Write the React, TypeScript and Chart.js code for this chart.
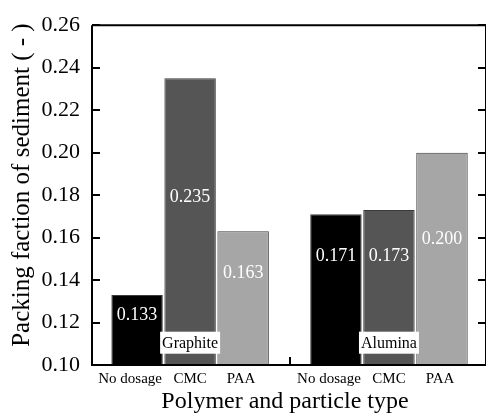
import React, { useEffect, useRef } from "react";
import { Chart, registerables } from "chart.js";

Chart.register(...registerables);

const groups = ["Graphite", "Alumina"];
const polymers = ["No dosage", "CMC", "PAA"];
const graphiteValues = [0.133, 0.235, 0.163];
const aluminaValues = [0.171, 0.173, 0.2];
const valueLabelAt = [0.1236, 0.179, 0.1432, 0.1514, 0.1514, 0.1591];
const groupLabelAt = 0.1105;
const yMin = 0.1;
const yMax = 0.26;
const yStep = 0.02;
const barColors = ["#000000", "#555555", "#a6a6a6"];

const GROUP_SPACING = 3.75;
const LABEL_SHIFT = [-7, 0, -2];
const FONT = "'Liberation Serif', 'Times New Roman', serif";

export default function App() {
  const ref = useRef<HTMLCanvasElement | null>(null);

  useEffect(() => {
    document.body.style.margin = "0";
    const canvas = ref.current;
    if (!canvas) return;

    const allValues = [graphiteValues, aluminaValues];
    const points: { x: number; y: number }[] = [];
    const colors: string[] = [];
    const labels: string[] = [];
    const shifts: number[] = [];
    allValues.forEach((vals, g) => {
      vals.forEach((v, i) => {
        points.push({ x: 1 + g * GROUP_SPACING + i, y: v });
        colors.push(barColors[i]);
        labels.push(polymers[i]);
        shifts.push(LABEL_SHIFT[i]);
      });
    });
    const tickPositions = points.map((p) => p.x);

    const framePlugin = {
      id: "frame",
      afterDraw(chart: any) {
        const { ctx, chartArea } = chart;
        const xs = chart.scales.x;
        const ys = chart.scales.y;
        const { left, right, top, bottom } = chartArea;
        ctx.save();
        // value labels
        ctx.fillStyle = "#ffffff";
        ctx.font = `18px ${FONT}`;
        ctx.textAlign = "center";
        ctx.textBaseline = "middle";
        points.forEach((p, i) => {
          ctx.fillText(p.y.toFixed(3), xs.getPixelForValue(p.x), ys.getPixelForValue(valueLabelAt[i]));
        });
        // category labels
        ctx.fillStyle = "#000000";
        ctx.font = `15px ${FONT}`;
        points.forEach((p, i) => {
          ctx.fillText(labels[i], xs.getPixelForValue(p.x) + shifts[i], bottom + 14);
        });
        // group labels
        ctx.font = `16px ${FONT}`;
        groups.forEach((g, gi) => {
          const cx = xs.getPixelForValue(1 + gi * GROUP_SPACING + 1);
          const cy = ys.getPixelForValue(groupLabelAt);
          const w = ctx.measureText(g).width + 4;
          ctx.fillStyle = "#ffffff";
          ctx.fillRect(cx - w / 2, cy - 11, w, 22);
          ctx.fillStyle = "#000000";
          ctx.fillText(g, cx, cy + 1);
        });
        // frame
        ctx.strokeStyle = "#000000";
        ctx.lineWidth = 2;
        ctx.beginPath();
        ctx.moveTo(left, top);
        ctx.lineTo(right, top);
        ctx.moveTo(left, top);
        ctx.lineTo(left, bottom);
        ctx.moveTo(left - 1, bottom);
        ctx.lineTo(right, bottom);
        ctx.moveTo(right, top);
        ctx.lineTo(right, bottom);
        // y ticks
        for (let v = yMin; v <= yMax + 1e-9; v += yStep) {
          const py = Math.round(ys.getPixelForValue(v));
          ctx.moveTo(left, py);
          ctx.lineTo(left + 8, py);
          ctx.moveTo(right, py);
          ctx.lineTo(right - 8, py);
        }
        // group divider tick
        const mid = (1 + 2 + 1 + GROUP_SPACING) / 2;
        const mx = Math.round(xs.getPixelForValue(mid));
        ctx.moveTo(mx, bottom);
        ctx.lineTo(mx, bottom - 8);
        ctx.stroke();
        // axis titles
        ctx.fillStyle = "#000000";
        ctx.font = `24px ${FONT}`;
        ctx.textAlign = "center";
        ctx.textBaseline = "middle";
        ctx.fillText("Polymer and particle type", (left + right) / 2 - 4, 402);
        ctx.font = `25px ${FONT}`;
        ctx.translate(22, (top + bottom) / 2 - 10);
        ctx.rotate(-Math.PI / 2);
        ctx.fillText("Packing faction of sediment ( - )", 0, 0);
        ctx.restore();
      },
    };

    const chart = new Chart(canvas, {
      type: "bar",
      data: {
        datasets: [
          {
            data: points,
            backgroundColor: colors,
            borderColor: "#3a3a3a",
            borderWidth: 1,
            base: yMin,
            barPercentage: 0.97,
            categoryPercentage: 1,
          } as any,
        ],
      },
      options: {
        responsive: false,
        animation: false,
        layout: { padding: { top: 13, right: 0, left: 0, bottom: 0 } },
        plugins: { legend: { display: false }, tooltip: { enabled: false } },
        scales: {
          x: {
            type: "linear",
            offset: false,
            min: 0.15,
            max: 7.58,
            grid: { display: false, drawTicks: false, offset: false },
            border: { display: false },
            afterBuildTicks: (scale: any) => {
              scale.ticks = tickPositions.map((v) => ({ value: v }));
            },
            afterFit: (scale: any) => {
              scale.height = 53;
            },
            ticks: { display: false },
          },
          y: {
            min: yMin,
            max: yMax,
            grid: { display: false, drawTicks: false },
            border: { display: false },
            afterFit: (scale: any) => {
              scale.width = 92;
            },
            ticks: {
              stepSize: yStep,
              padding: 12,
              color: "#000000",
              font: { family: FONT, size: 22 },
              callback: (v: any) => Number(v).toFixed(2),
            },
          },
        },
      },
      plugins: [framePlugin],
    });
    return () => chart.destroy();
  }, []);

  return (
    <div style={{ width: 486, height: 418 }}>
      <canvas ref={ref} width={486} height={418} style={{ display: "block" }} />
    </div>
  );
}
